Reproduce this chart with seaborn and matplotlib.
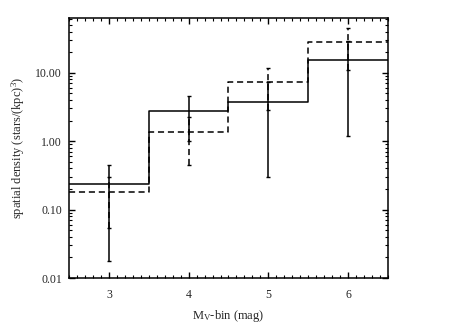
import numpy as np
import pandas as pd
import matplotlib
matplotlib.use("Agg")
import matplotlib.pyplot as plt
import matplotlib.ticker as ticker
import seaborn as sns

# bin centres (M_V, mag) and bin edges
mv_bins = [3, 4, 5, 6]
bin_edges = [2.5, 3.5, 4.5, 5.5, 6.5]

# spatial density (stars/kpc^3), two estimates
density_solid = [0.233, 2.80, 3.75, 15.1]
err_solid = [0.215, 1.78, 3.45, 13.9]
density_dashed = [0.178, 1.35, 7.35, 27.9]
err_dashed = [0.124, 0.90, 4.50, 17.0]

sns.set_style("ticks")
plt.rcParams.update({
    "font.family": ["Liberation Serif", "DejaVu Serif"],
    "mathtext.fontset": "custom",
    "mathtext.rm": "Liberation Serif",
    "mathtext.it": "Liberation Serif",
    "xtick.direction": "in",
    "ytick.direction": "in",
    "xtick.top": True,
    "ytick.right": True,
    "axes.linewidth": 1.1,
    "axes.edgecolor": "black",
})

fig = plt.figure(figsize=(4.58, 3.28), dpi=100)
ax = fig.add_axes([0.1507, 0.1524, 0.6963, 0.7927])

# step histograms built from the edges (last value repeated for steps-post)
steps = pd.DataFrame({
    "edge": bin_edges,
    "solid": density_solid + [density_solid[-1]],
    "dashed": density_dashed + [density_dashed[-1]],
})
sns.lineplot(data=steps, x="edge", y="solid", ax=ax, color="black",
             linewidth=1.1, drawstyle="steps-post", estimator=None, sort=False)
sns.lineplot(data=steps, x="edge", y="dashed", ax=ax, color="black",
             linewidth=1.1, drawstyle="steps-post", estimator=None, sort=False)
ax.lines[-1].set_linestyle((0, (4, 2.5)))

# error bars (dashed drawn first, solid on top)
eb = ax.errorbar(mv_bins, density_dashed, yerr=err_dashed, fmt="none",
                 ecolor="black", elinewidth=1.1, capsize=1.6, capthick=1.0)
eb[2][0].set_linestyle((0, (4, 2.5)))
ax.errorbar(mv_bins, density_solid, yerr=err_solid, fmt="none",
            ecolor="black", elinewidth=1.1, capsize=1.6, capthick=1.0)

ax.set_yscale("log")
ax.set_xlim(2.5, 6.5)
ax.set_ylim(0.01, 63)
ax.set_xticks(mv_bins)
ax.xaxis.set_minor_locator(ticker.MultipleLocator(0.1))
ax.set_yticks([0.01, 0.1, 1, 10])
ax.yaxis.set_major_formatter(ticker.FuncFormatter(lambda v, p: f"{v:.2f}"))
ax.yaxis.set_minor_locator(ticker.LogLocator(base=10, subs=np.arange(2, 10)))
ax.yaxis.set_minor_formatter(ticker.NullFormatter())

ax.tick_params(which="major", length=4, width=1.0, labelsize=8.5, color="black")
ax.tick_params(axis="x", which="major", pad=8)
ax.tick_params(axis="y", which="major", pad=5)
ax.tick_params(which="minor", length=2, width=0.8, color="black")

ax.set_xlabel(r"M$_{\rm V}$-bin (mag)", fontsize=9, labelpad=5)
ax.set_ylabel(r"spatial density (stars/(kpc)$^3$)", fontsize=9, labelpad=6)

fig.savefig("out.png", dpi=100)
